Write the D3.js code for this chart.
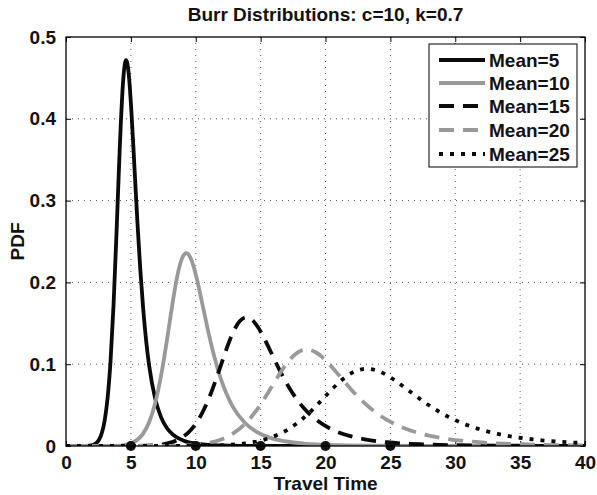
<!DOCTYPE html>
<html><head><meta charset="utf-8">
<script src="https://cdn.jsdelivr.net/npm/d3@7"></script>
<style>
html,body{margin:0;padding:0;background:#fff;}
svg{display:block;font-family:"Liberation Sans",Arial,Helvetica,sans-serif;font-weight:bold;}
</style></head>
<body><svg id="c" width="597" height="495"></svg>
<script>
// ---- data ----
const seriesNames = ["Mean=5","Mean=10","Mean=15","Mean=20","Mean=25"];
const meanMarkers = [5,10,15,20,25];
const xTicks = [0,5,10,15,20,25,30,35,40];
const yTicks = [0,0.1,0.2,0.3,0.4,0.5];

const x5 = [0,0.916,1.374,1.832,2.291,2.520,2.749,2.978,3.207,3.436,3.665,3.894,4.008,4.123,4.237,4.352,4.466,4.581,4.635,4.696,4.810,4.925,5.039,5.268,5.497,5.726,5.955,6.184,6.413,6.872,7.330,7.788,8.246,9.162,10.536,11.911,13.743,16.03,18.32,40];
const y5 = [0,0,0.00003,0.0004,0.00298,0.00701,0.01524,0.03093,0.05881,0.10454,0.17245,0.26075,0.30886,0.35603,0.39877,0.43375,0.45815,0.47031,0.47160,0.47002,0.45843,0.43741,0.40949,0.34311,0.27548,0.21556,0.16629,0.12753,0.09771,0.05791,0.03504,0.02172,0.01380,0.00596,0.00195,0.00073,0.00023,0.00007,0.00002,0];

const x10 = [0,1.833,2.749,3.665,4.582,5.040,5.498,5.956,6.414,6.872,7.330,7.789,8.018,8.247,8.476,8.705,8.934,9.163,9.272,9.392,9.621,9.850,10.079,10.537,10.996,11.454,11.912,12.370,12.828,13.745,14.661,15.577,16.493,18.326,21.075,23.824,27.489,32.07,36.65,40];
const y10 = [0,0,0.000015,0.0002,0.00149,0.00350,0.00762,0.01547,0.02940,0.05227,0.08622,0.13037,0.15442,0.17801,0.19938,0.21686,0.22906,0.23514,0.23579,0.23500,0.22921,0.21869,0.20474,0.17155,0.13773,0.10778,0.08314,0.06376,0.04885,0.02895,0.01752,0.01086,0.00690,0.00298,0.00098,0.00037,0.00012,0.00003,0.00001,0];

const x15 = [0,2.749,4.123,5.498,6.872,7.559,8.246,8.934,9.621,10.308,10.995,11.682,12.026,12.370,12.713,13.057,13.400,13.744,13.907,14.088,14.431,14.775,15.118,15.806,16.493,17.180,17.867,18.554,19.242,20.616,21.990,23.365,24.739,27.488,31.611,35.734,40];
const y15 = [0,0,0.00001,0.00013,0.00099,0.00234,0.00508,0.01031,0.01960,0.03484,0.05748,0.08691,0.10295,0.11867,0.13291,0.14457,0.15271,0.15676,0.15719,0.15666,0.15280,0.14579,0.13649,0.11436,0.09182,0.07185,0.05543,0.04251,0.03257,0.01930,0.01168,0.00724,0.00460,0.00199,0.00065,0.00024,0.0001];

const x20 = [0,3.665,5.498,7.330,9.163,10.079,10.995,11.911,12.828,13.744,14.660,15.576,16.034,16.493,16.951,17.409,17.867,18.325,18.543,18.783,19.241,19.699,20.158,21.074,21.990,22.906,23.823,24.739,25.655,27.488,29.320,31.153,32.985,36.650,40];
const y20 = [0,0,0.0000075,0.0001,0.00074,0.00175,0.00381,0.00773,0.01470,0.02613,0.04311,0.06518,0.07721,0.08900,0.09969,0.10843,0.11453,0.11757,0.11789,0.11750,0.11460,0.10935,0.10237,0.08577,0.06887,0.05389,0.04157,0.03188,0.02443,0.01448,0.00876,0.00543,0.00345,0.00149,0.00074];

const x25 = [0,4.581,6.872,9.162,11.453,12.598,13.744,14.889,16.034,17.180,18.325,19.470,20.043,20.615,21.188,21.761,22.333,22.906,23.179,23.479,24.051,24.624,25.197,26.342,27.487,28.633,29.778,30.923,32.068,34.359,36.650,38.940,40];
const y25 = [0,0,0.000006,0.00008,0.00060,0.00140,0.00305,0.00619,0.01176,0.02091,0.03449,0.05215,0.06177,0.07121,0.07975,0.08675,0.09163,0.09406,0.09432,0.09400,0.09168,0.08748,0.08189,0.06862,0.05510,0.04311,0.03326,0.02551,0.01954,0.01158,0.00701,0.00434,0.00352];

const seriesX = [x5,x10,x15,x20,x25];
const seriesY = [y5,y10,y15,y20,y25];

// ---- styles ----
const colors = ["#0a0a0a","#999","#0a0a0a","#999","#0a0a0a"];
const dashes = [null,null,"15,9","15,9","4,7"];

// ---- layout ----
const L=66,R=585,T=37,B=446;
const svg=d3.select("#c");
const x=d3.scaleLinear().domain([0,40]).range([L,R]);
const y=d3.scaleLinear().domain([0,0.5]).range([B,T]);

svg.append("defs").append("clipPath").attr("id","clip")
  .append("rect").attr("x",L).attr("y",T).attr("width",R-L).attr("height",B-T);

// grid
const grid=svg.append("g");
xTicks.slice(1,-1).forEach(v=>grid.append("line").attr("x1",x(v)).attr("x2",x(v)).attr("y1",T).attr("y2",B)
  .attr("stroke","#555").attr("stroke-width",1).attr("stroke-dasharray","1,5"));
yTicks.slice(1,-1).forEach(v=>grid.append("line").attr("x1",L).attr("x2",R).attr("y1",y(v)).attr("y2",y(v))
  .attr("stroke","#555").attr("stroke-width",1).attr("stroke-dasharray","1,5"));

// axes
const fs=19;
const ff="Liberation Sans, Arial, sans-serif";
const xa=svg.append("g").attr("transform",`translate(0,${B})`)
  .call(d3.axisBottom(x).tickValues(xTicks).tickSizeInner(-5).tickSizeOuter(0).tickPadding(10).tickFormat(d3.format("d")));
xa.select(".domain").remove();
xa.selectAll("text").attr("font-size",fs).attr("font-weight","bold").attr("fill","#111").attr("font-family",ff);
xa.selectAll("line").attr("stroke","#000");
const xt=svg.append("g").attr("transform",`translate(0,${T})`)
  .call(d3.axisTop(x).tickValues(xTicks).tickSizeInner(-5).tickSizeOuter(0).tickFormat(""));
xt.select(".domain").remove();
const ya=svg.append("g").attr("transform",`translate(${L},0)`)
  .call(d3.axisLeft(y).tickValues(yTicks).tickSizeInner(-5).tickSizeOuter(0).tickPadding(10).tickFormat(d=>d===0?"0":d3.format(".1f")(d)));
ya.select(".domain").remove();
ya.selectAll("text").attr("font-size",fs).attr("font-weight","bold").attr("fill","#111").attr("font-family",ff);
const yr=svg.append("g").attr("transform",`translate(${R},0)`)
  .call(d3.axisRight(y).tickValues(yTicks).tickSizeInner(-5).tickSizeOuter(0).tickFormat(""));
yr.select(".domain").remove();

// curves
const line=d3.line().x(d=>x(d[0])).y(d=>y(d[1])).curve(d3.curveMonotoneX);
const cg=svg.append("g").attr("clip-path","url(#clip)");
seriesX.forEach((xs,i)=>{
  const pts=xs.map((v,j)=>[v,seriesY[i][j]]);
  cg.append("path").attr("d",line(pts)).attr("fill","none").attr("stroke",colors[i])
    .attr("stroke-width",3.8).attr("stroke-dasharray",dashes[i]);
});

// mean markers
svg.append("g").selectAll("circle").data(meanMarkers).join("circle")
  .attr("cx",d=>x(d)).attr("cy",y(0)).attr("r",5).attr("fill","#111");

// frame
svg.append("rect").attr("x",L).attr("y",T).attr("width",R-L).attr("height",B-T)
  .attr("fill","none").attr("stroke","#000").attr("stroke-width",1.3);

// title & labels
svg.append("text").attr("x",(L+R)/2).attr("y",21).attr("text-anchor","middle").attr("font-size",fs)
  .attr("fill","#111").text("Burr Distributions: c=10, k=0.7");
svg.append("text").attr("x",(L+R)/2).attr("y",490).attr("text-anchor","middle").attr("font-size",fs)
  .attr("fill","#111").text("Travel Time");
svg.append("text").attr("transform",`translate(24,${(T+B)/2}) rotate(-90)`).attr("text-anchor","middle")
  .attr("font-size",fs).attr("fill","#111").text("PDF");

// legend
const lg=svg.append("g");
lg.append("rect").attr("x",429).attr("y",44).attr("width",148).attr("height",123)
  .attr("fill","#fff").attr("stroke","#000").attr("stroke-width",1);
const rowY=[60,83,106,130,154];
seriesNames.forEach((n,i)=>{
  lg.append("line").attr("x1",439).attr("x2",485).attr("y1",rowY[i]).attr("y2",rowY[i])
    .attr("stroke",colors[i]).attr("stroke-width",3.8).attr("stroke-dasharray",dashes[i]);
  lg.append("text").attr("x",489).attr("y",rowY[i]+6.5).attr("font-size",fs).attr("fill","#111").text(n);
});
</script></body></html>
